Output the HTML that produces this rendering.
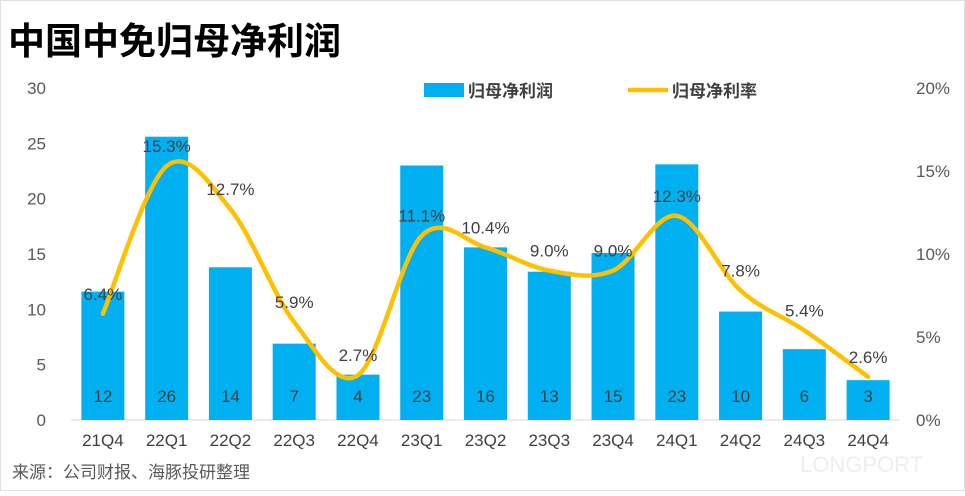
<!DOCTYPE html>
<html><head><meta charset="utf-8">
<style>
body{margin:0;background:#fff;width:965px;height:491px;overflow:hidden;font-family:"Liberation Sans","Noto Sans CJK SC",sans-serif;}
</style></head>
<body>
<svg id="chart" width="965" height="491" xmlns="http://www.w3.org/2000/svg" font-family="'Liberation Sans','Noto Sans CJK SC',sans-serif">
<rect x="0.5" y="0.5" width="964" height="490" fill="none" stroke="#e0e0e0"/>
<text x="8" y="54" font-size="37" font-weight="bold" fill="#000">中国中免归母净利润</text>
<text x="12" y="478" font-size="17" fill="#595959">来源：公司财报、海豚投研整理</text>
<text x="800" y="472" font-size="22" fill="#eee">LONGPORT</text>
<g id="g"></g>
</svg>
<script>
const categories=["21Q4","22Q1","22Q2","22Q3","22Q4","23Q1","23Q2","23Q3","23Q4","24Q1","24Q2","24Q3","24Q4"];
const profit=[11.6,25.6,13.8,6.9,4.1,23.0,15.6,13.4,15.1,23.1,9.8,6.4,3.6];
const profitLabels=["12","26","14","7","4","23","16","13","15","23","10","6","3"];
const rate=[6.4,15.3,12.7,5.9,2.7,11.1,10.4,9.0,9.0,12.3,7.8,5.4,2.6];
const leftTicks=[0,5,10,15,20,25,30];
const rightTicks=[0,5,10,15,20];
const NS="http://www.w3.org/2000/svg";
const g=document.getElementById('g');
const x0=71,x1=900,y0=420,y1=88;
const bw=(x1-x0)/categories.length;
const xc=i=>x0+bw*(i+0.5);
const yl=v=>y0-(v/30)*(y0-y1);
const yr=v=>y0-(v/20)*(y0-y1);
function mk(t,a){const e=document.createElementNS(NS,t);for(const k in a)e.setAttribute(k,a[k]);g.appendChild(e);return e;}
const ax=mk('line',{x1:x0,x2:x1,y1:y0,y2:y0,stroke:'#d9d9d9','stroke-width':1});


leftTicks.forEach(v=>{const t=mk('text',{x:46,y:yl(v)+6,'font-size':17,fill:'#595959','text-anchor':'end'});t.textContent=v;

});
rightTicks.forEach(v=>{const t=mk('text',{x:916,y:yr(v)+6,'font-size':17,fill:'#595959'});t.textContent=v+'%';

});
categories.forEach((c,i)=>{
const b=mk('rect',{x:xc(i)-21.5,y:yl(profit[i]),width:43,height:y0-yl(profit[i]),fill:'#00b0f0'});


const l=mk('text',{x:xc(i),y:402,'font-size':17,fill:'#404040','text-anchor':'middle'});l.textContent=profitLabels[i];


const t=mk('text',{x:xc(i),y:446,'font-size':17,fill:'#404040','text-anchor':'middle'});t.textContent=c;


});
const pts=rate.map((v,i)=>[xc(i),yr(v)]);
let d='M'+pts[0][0]+','+pts[0][1];
for(let i=0;i<pts.length-1;i++){const p0=pts[Math.max(0,i-1)],p1=pts[i],p2=pts[i+1],p3=pts[Math.min(pts.length-1,i+2)];
const s=6;d+=' C'+(p1[0]+(p2[0]-p0[0])/s)+','+(p1[1]+(p2[1]-p0[1])/s)+' '+(p2[0]-(p3[0]-p1[0])/s)+','+(p2[1]-(p3[1]-p1[1])/s)+' '+p2[0]+','+p2[1];}
const line=mk('path',{d:d,fill:'none',stroke:'#ffc000','stroke-width':4.5,'stroke-linecap':'round'});


rate.forEach((v,i)=>{const t=mk('text',{x:xc(i),y:yr(v)-14,'font-size':17,fill:'#404040','text-anchor':'middle'});t.textContent=v.toFixed(1)+'%';

});
const lb=mk('rect',{x:424,y:83,width:40,height:14,fill:'#00b0f0'});


const lt=mk('text',{x:468,y:97,'font-size':17,'font-weight':'bold',fill:'#404040'});lt.textContent='归母净利润';


const ll=mk('line',{x1:628,x2:668,y1:90,y2:90,stroke:'#ffc000','stroke-width':4.5});


const lt2=mk('text',{x:672,y:97,'font-size':17,'font-weight':'bold',fill:'#404040'});lt2.textContent='归母净利率';


</script>
</body></html>
